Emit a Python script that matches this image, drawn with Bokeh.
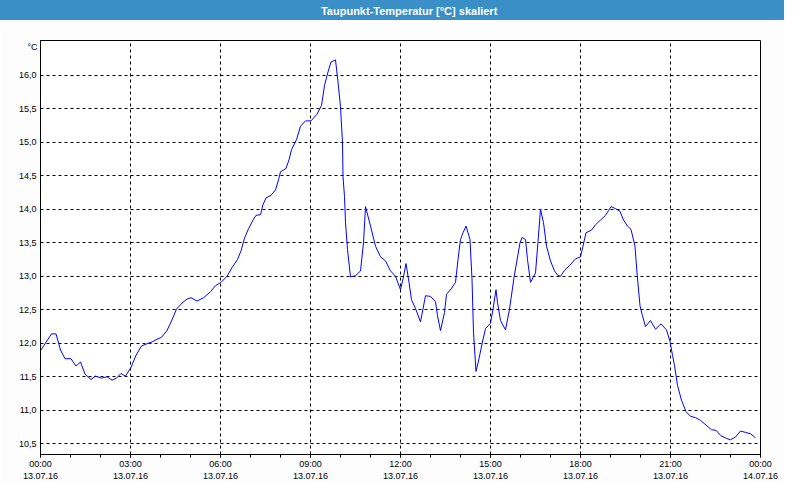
import pandas as pd
from bokeh.plotting import figure
from bokeh.models import (FixedTicker, DatetimeTickFormatter, CustomJSTickFormatter,
                          Label, Range1d, ColumnDataSource)
from bokeh.layouts import column
from bokeh.embed import file_html
from bokeh.resources import INLINE

# ---------------- data ----------------
title_text = "Taupunkt-Temperatur [°C] skaliert"
unit_label = "°C"
day = "2016-07-13"
times = ["00:00", "00:22", "00:31", "00:40", "00:49", "01:01", "01:11", "01:20", "01:29", "01:41",
         "01:50", "02:02", "02:13", "02:23", "02:32", "02:41", "02:50", "03:01", "03:11", "03:22",
         "03:32", "03:43", "03:53", "04:02", "04:13", "04:23", "04:32", "04:43", "04:53", "05:01",
         "05:13", "05:26", "05:40", "05:50", "06:01", "06:13", "06:23", "06:34", "06:41", "06:48",
         "06:56", "07:05", "07:11", "07:20", "07:25", "07:31", "07:41", "07:50", "07:56", "08:00",
         "08:11", "08:17", "08:22", "08:32", "08:40", "08:50", "09:01", "09:13", "09:22", "09:28",
         "09:35", "09:41", "09:50", "09:55", "10:00", "10:04", "10:05", "10:08", "10:10", "10:14",
         "10:20", "10:30", "10:40", "10:46", "10:50", "11:00", "11:10", "11:20", "11:30", "11:40",
         "11:50", "12:00", "12:05", "12:11", "12:17", "12:22", "12:30", "12:40", "12:50", "13:00",
         "13:10", "13:14", "13:20", "13:28", "13:32", "13:41", "13:50", "13:55", "14:00", "14:05",
         "14:11", "14:19", "14:23", "14:26", "14:31", "14:37", "14:43", "14:50", "15:00", "15:05",
         "15:11", "15:14", "15:20", "15:30", "15:38", "15:47", "15:59", "16:03", "16:10", "16:14",
         "16:20", "16:30", "16:35", "16:40", "16:46", "16:52", "17:00", "17:08", "17:14", "17:20",
         "17:28", "17:38", "17:50", "18:00", "18:05", "18:11", "18:22", "18:30", "18:40", "18:50",
         "18:56", "19:01", "19:10", "19:19", "19:26", "19:34", "19:41", "19:49", "19:53", "19:59",
         "20:04", "20:10", "20:20", "20:30", "20:41", "20:52", "20:59", "21:04", "21:08", "21:14",
         "21:22", "21:31", "21:40", "21:50", "22:00", "22:11", "22:22", "22:31", "22:41", "22:52",
         "23:00", "23:10", "23:20", "23:30", "23:40", "23:50"]
dewpoint = [11.89, 12.14, 12.14, 11.90, 11.77, 11.77, 11.66, 11.72, 11.54, 11.46,
            11.51, 11.48, 11.50, 11.45, 11.48, 11.55, 11.51, 11.64, 11.82, 11.96,
            11.99, 12.02, 12.06, 12.09, 12.19, 12.35, 12.51, 12.60, 12.66, 12.68,
            12.63, 12.68, 12.77, 12.86, 12.91, 13.00, 13.13, 13.25, 13.38, 13.57,
            13.71, 13.84, 13.91, 13.92, 14.07, 14.17, 14.21, 14.29, 14.44, 14.56,
            14.61, 14.74, 14.89, 15.04, 15.24, 15.32, 15.32, 15.42, 15.55, 15.85,
            16.05, 16.20, 16.23, 15.90, 15.53, 14.99, 14.49, 14.19, 13.80, 13.40,
            12.99, 13.01, 13.08, 13.50, 14.04, 13.75, 13.45, 13.29, 13.23, 13.08,
            13.00, 12.80, 12.96, 13.19, 12.91, 12.65, 12.52, 12.32, 12.71, 12.70,
            12.62, 12.41, 12.19, 12.46, 12.73, 12.81, 12.91, 13.25, 13.55, 13.65,
            13.75, 13.55, 12.96, 12.16, 11.58, 11.77, 11.99, 12.22, 12.30, 12.51,
            12.80, 12.61, 12.34, 12.20, 12.51, 12.98, 13.50, 13.58, 13.55, 13.25,
            12.91, 13.05, 13.52, 14.00, 13.80, 13.45, 13.23, 13.08, 13.02, 13.00,
            13.09, 13.16, 13.26, 13.29, 13.45, 13.65, 13.69, 13.77, 13.84, 13.91,
            13.98, 14.04, 14.01, 13.97, 13.84, 13.75, 13.70, 13.45, 13.05, 12.56,
            12.41, 12.25, 12.34, 12.21, 12.29, 12.20, 12.03, 11.82, 11.67, 11.37,
            11.15, 10.98, 10.91, 10.89, 10.85, 10.78, 10.71, 10.70, 10.62, 10.58,
            10.56, 10.60, 10.69, 10.67, 10.65, 10.59]
y_ticks = [10.5, 11.0, 11.5, 12.0, 12.5, 13.0, 13.5, 14.0, 14.5, 15.0, 15.5, 16.0]
y_min, y_max = 10.34, 16.52
major_hours = [0, 3, 6, 9, 12, 15, 18, 21, 24]
grid_hours = [3, 6, 9, 12, 15, 18, 21]
minor_hours = list(range(0, 25))

# ---------------- styles ----------------
BAR = "#3b8fc7"
BG = "#fcfdfc"
FONT = "Liberation Sans"

t0 = pd.Timestamp(day + " 00:00")
t_end = t0 + pd.Timedelta(hours=24)
ms0 = t0.value // 10**6
H = 3600 * 1000

src = ColumnDataSource(dict(t=pd.to_datetime([day + " " + hm for hm in times]), v=dewpoint))

# title bar (canvas transparent over a CSS background so no seams show)
pt = figure(width=784, height=20, x_range=Range1d(0, 1), y_range=Range1d(0, 1),
            toolbar_location=None, output_backend="svg", min_border=0,
            background_fill_alpha=0, border_fill_alpha=0, outline_line_color=None,
            styles={"background-color": BAR})
pt.axis.visible = False
pt.grid.visible = False
pt.add_layout(Label(x=0.512, y=0.5, text=title_text, text_align="center", text_baseline="middle",
                    text_color="white", text_font=FONT, text_font_style="bold",
                    text_font_size="11px"))

# main plot
p = figure(width=784, height=464, x_axis_type="datetime",
           x_range=Range1d(t0, t_end), y_range=Range1d(y_min, y_max),
           toolbar_location=None, output_backend="svg",
           min_border_left=40, min_border_right=24, min_border_top=20, min_border_bottom=27,
           background_fill_color="white", border_fill_color=BG,
           outline_line_color="black", outline_line_width=1)

p.line("t", "v", source=src, line_color="#0000ff", line_width=1)

xa = p.xaxis[0]
xa.ticker = FixedTicker(ticks=[ms0 + h * H for h in major_hours],
                        minor_ticks=[ms0 + h * H for h in minor_hours])
fmt = "%H:%M\n%d.%m.%y"
xa.formatter = DatetimeTickFormatter(hours=fmt, hourmin=fmt, days=fmt, minutes=fmt,
                                     minsec=fmt, seconds=fmt, months=fmt, years=fmt)
xa.major_tick_out = 3
xa.major_tick_in = 0
xa.minor_tick_out = 3
xa.minor_tick_in = 0
xa.major_label_standoff = 1
xa.major_label_text_font = FONT
xa.major_label_text_font_size = "9px"
xa.major_label_text_color = "black"
xa.major_label_text_line_height = 1.25
xa.axis_line_color = "black"
xa.major_tick_line_color = "black"
xa.minor_tick_line_color = "black"

ya = p.yaxis[0]
ya.ticker = FixedTicker(ticks=y_ticks, minor_ticks=[])
ya.formatter = CustomJSTickFormatter(code="return tick.toFixed(1).replace('.', ',');")
ya.major_tick_out = 0
ya.major_tick_in = 0
ya.minor_tick_out = 0
ya.minor_tick_in = 0
ya.major_label_standoff = 4
ya.major_label_text_font = FONT
ya.major_label_text_font_size = "9px"
ya.major_label_text_color = "black"
ya.axis_line_color = "black"

p.xgrid.ticker = FixedTicker(ticks=[ms0 + h * H for h in grid_hours])
p.ygrid.ticker = FixedTicker(ticks=y_ticks)
for g in (p.xgrid[0], p.ygrid[0]):
    g.grid_line_color = "black"
    g.grid_line_dash = "3 3"
    g.grid_line_width = 1

# unit label at the top of the value axis (side panel so it is not clipped to the frame)
p.add_layout(Label(x=ms0, y=y_max, text=unit_label, text_align="right", text_baseline="top",
                   x_offset=-3, y_offset=-1, text_font=FONT, text_font_size="9px",
                   text_color="black"), "left")

layout = column(pt, p, spacing=0)
open("out.html", "w").write(file_html(layout, INLINE))
